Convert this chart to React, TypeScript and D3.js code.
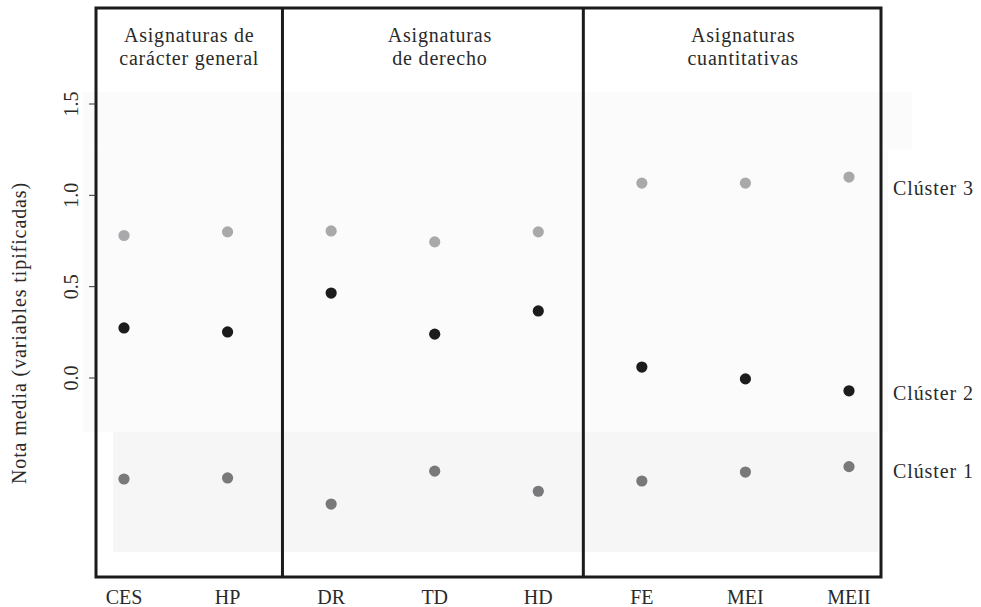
import React from "react";
import * as d3 from "d3";

const categories = ["CES", "HP", "DR", "TD", "HD", "FE", "MEI", "MEII"];
const cluster3 = [0.78, 0.8, 0.805, 0.745, 0.8, 1.067, 1.067, 1.1];
const cluster2 = [0.274, 0.252, 0.465, 0.24, 0.367, 0.06, -0.005, -0.07];
const cluster1 = [-0.553, -0.547, -0.69, -0.51, -0.62, -0.564, -0.515, -0.485];
const yTicks = [0.0, 0.5, 1.0, 1.5];
const panelTitles = [
  ["Asignaturas de", "carácter general"],
  ["Asignaturas", "de derecho"],
  ["Asignaturas", "cuantitativas"],
];
const clusterNames = ["Clúster 3", "Clúster 2", "Clúster 1"];
const clusterLabelValues = [1.04, -0.08, -0.51];
const bandTop = [1.565, -0.296];
const bandBottom = [-0.296, -0.952];

const W = 981;
const H = 607;
const frameLeft = 96;
const frameRight = 881;
const frameTop = 8;
const frameBottom = 577;
const FONT = "'Liberation Serif', 'Times New Roman', serif";
const TEXT = "#2a2a2a";

export default function App() {
  const x = d3.scalePoint<string>().domain(categories).range([124, 849]);
  const y = d3.scaleLinear().domain([0, 1.5]).range([378, 104]);
  const step = x.step();

  const series = [
    { values: cluster3, color: "#a9a9ab" },
    { values: cluster2, color: "#1c1c1c" },
    { values: cluster1, color: "#79797b" },
  ];

  const dividers = [x("HP")! + step * 0.53, x("HD")! + step * 0.435];
  const panelEdges = [frameLeft, ...dividers, frameRight];
  const titleOffsets = [0, 7, 11];

  return (
    <svg
      width={W}
      height={H}
      style={{ position: "absolute", left: 0, top: 0, display: "block", background: "#fff" }}
    >
      {/* background shading bands */}
      <rect x={83} y={y(bandTop[0])} width={912 - 83} height={y(1.25) - y(bandTop[0])} fill="#fbfbfb" />
      <rect x={83} y={y(1.25)} width={888 - 83} height={y(bandBottom[0]) - y(1.25)} fill="#fbfbfb" />
      <rect x={113} y={y(bandTop[1])} width={878 - 113} height={y(bandBottom[1]) - y(bandTop[1])} fill="#f6f6f6" />

      {/* points */}
      {series.map((s, si) =>
        s.values.map((v, i) => (
          <circle key={`${si}-${i}`} cx={x(categories[i])} cy={y(v)} r={5.6} fill={s.color} />
        ))
      )}

      {/* frame */}
      <rect
        x={frameLeft}
        y={frameTop}
        width={frameRight - frameLeft}
        height={frameBottom - frameTop}
        fill="none"
        stroke="#1b1b1b"
        strokeWidth={3}
      />
      {dividers.map((d, i) => (
        <line key={i} x1={d} x2={d} y1={frameTop} y2={frameBottom} stroke="#1b1b1b" strokeWidth={3} />
      ))}

      {/* y ticks */}
      {yTicks.map((t) => (
        <g key={t}>
          <line x1={89} x2={frameLeft} y1={y(t)} y2={y(t)} stroke="#333" strokeWidth={1} />
          <text
            transform={`translate(78,${y(t)}) rotate(-90)`}
            textAnchor="middle"
            fontFamily={FONT}
            fontSize={20}
            fill={TEXT}
          >
            {t.toFixed(1)}
          </text>
        </g>
      ))}

      <text
        transform={`translate(26,${333}) rotate(-90)`}
        textAnchor="middle"
        fontFamily={FONT}
        fontSize={20}
        letterSpacing={0.9}
        fill={TEXT}
      >
        Nota media (variables tipificadas)
      </text>

      {/* x labels */}
      {categories.map((c) => (
        <text key={c} x={x(c)} y={604} textAnchor="middle" fontFamily={FONT} fontSize={20} fill={TEXT}>
          {c}
        </text>
      ))}

      {/* panel titles */}
      {panelTitles.map((lines, i) => {
        const cx = (panelEdges[i] + panelEdges[i + 1]) / 2 + titleOffsets[i];
        return (
          <text key={i} textAnchor="middle" fontFamily={FONT} fontSize={20} letterSpacing={0.8} fill={TEXT}>
            {lines.map((l, j) => (
              <tspan key={j} x={cx} y={42 + j * 23}>
                {l}
              </tspan>
            ))}
          </text>
        );
      })}

      {/* cluster labels */}
      {clusterNames.map((n, i) => (
        <text
          key={n}
          x={893}
          y={y(clusterLabelValues[i]) + 7}
          fontFamily={FONT}
          fontSize={20}
          letterSpacing={0.9}
          fill={TEXT}
        >
          {n}
        </text>
      ))}
    </svg>
  );
}
